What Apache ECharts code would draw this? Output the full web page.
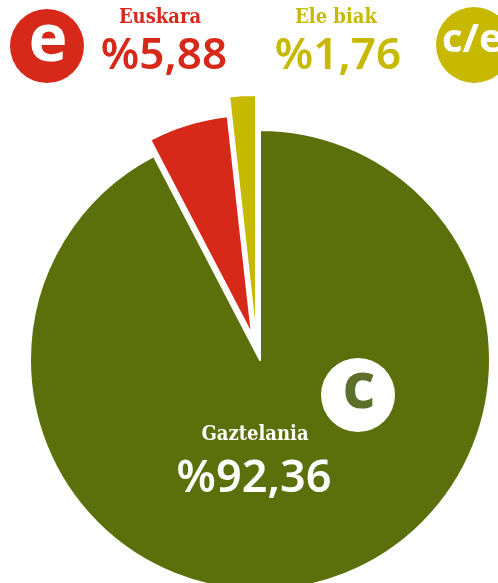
<!DOCTYPE html>
<html>
<head>
<meta charset="utf-8">
<script src="https://cdn.jsdelivr.net/npm/echarts@6/dist/echarts.min.js"></script>
<style>
  html, body { margin: 0; padding: 0; background: #fff; }
  #container { width: 498px; height: 583px; }
</style>
</head>
<body>
<div id="container"></div>
<script>
var names = ['Gaztelania', 'Euskara', 'Ele biak'];
var values = [92.36, 5.88, 1.76];
var colors = ['#5b6f0b', '#d6291a', '#c6b900'];

// layout: each slice is its own pie so it gets its own radius and pull-out
var radii = [230, 220, 243];
var pullOut = [[0, 0], [-8, -25], [-4, -22]];
var cx = 260, cy = 360;

var dom = document.getElementById('container');
var myChart = echarts.init(dom);

function pct(v) {
    return '%' + v.toFixed(2).replace('.', ',');
}

var series = [];
for (var i = 0; i < values.length; i++) {
    var data = [];
    for (var j = 0; j < values.length; j++) {
        data.push({
            name: names[j],
            value: values[j],
            itemStyle: j === i
                ? {color: colors[j], borderColor: '#fff', borderWidth: 2}
                : {color: 'rgba(0,0,0,0)', borderWidth: 0}
        });
    }
    series.push({
        type: 'pie',
        center: [cx + pullOut[i][0], cy + pullOut[i][1]],
        radius: [0, radii[i]],
        startAngle: 90,
        clockwise: true,
        silent: true,
        label: {show: false},
        labelLine: {show: false},
        data: data
    });
}

var serif = '"DejaVu Serif Condensed", "DejaVu Serif"';
var sans = '"Noto Sans"';

var graphics = [
    {type: 'circle', shape: {cx: 47, cy: 46, r: 37}, style: {fill: colors[1]}},
    {type: 'text', style: {text: 'e', x: 48, y: 42, fill: '#fff', font: 'bold 66px "Open Sans"', textAlign: 'center', textVerticalAlign: 'middle'}},
    {type: 'circle', shape: {cx: 474, cy: 45, r: 38}, style: {fill: colors[2]}},
    {type: 'text', style: {text: 'c/e', x: 442, y: 41, fill: '#fff', font: 'bold 40px "Open Sans"', textAlign: 'left', textVerticalAlign: 'middle'}},
    {type: 'text', style: {text: names[1], x: 160, y: 18, fill: colors[1], font: 'bold 20px ' + serif, textAlign: 'center', textVerticalAlign: 'middle'}},
    {type: 'text', style: {text: pct(values[1]), x: 164, y: 56, fill: colors[1], font: '600 44px ' + sans, textAlign: 'center', textVerticalAlign: 'middle'}},
    {type: 'text', style: {text: names[2], x: 336, y: 18, fill: colors[2], font: 'bold 20px ' + serif, textAlign: 'center', textVerticalAlign: 'middle'}},
    {type: 'text', style: {text: pct(values[2]), x: 338, y: 56, fill: colors[2], font: '600 44px ' + sans, textAlign: 'center', textVerticalAlign: 'middle'}},
    {type: 'circle', shape: {cx: 358, cy: 395, r: 37}, style: {fill: '#fff'}},
    {type: 'text', style: {text: 'c', x: 359, y: 390, fill: '#5d6f2a', font: 'bold 64px "Open Sans"', textAlign: 'center', textVerticalAlign: 'middle'}},
    {type: 'text', style: {text: names[0], x: 255, y: 435, fill: '#fff', font: 'bold 20px ' + serif, textAlign: 'center', textVerticalAlign: 'middle'}},
    {type: 'text', style: {text: pct(values[0]), x: 254, y: 479, fill: '#fff', font: '600 45px ' + sans, textAlign: 'center', textVerticalAlign: 'middle'}}
];
graphics.forEach(function (g) { g.z = 100; });

var option = {
    animation: false,
    series: series,
    graphic: graphics
};

myChart.setOption(option, true);
</script>
</body>
</html>
